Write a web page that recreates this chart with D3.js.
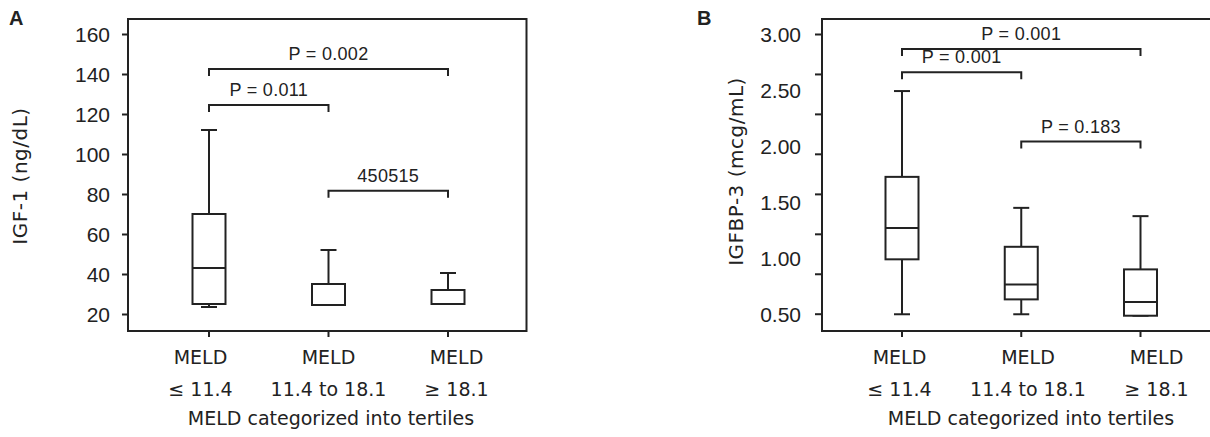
<!DOCTYPE html>
<html><head><meta charset="utf-8">
<script src="https://cdn.jsdelivr.net/npm/d3@7"></script>
<style>body{margin:0;background:#fff;overflow:hidden} svg{display:block}</style>
</head><body><svg id="c" width="1210" height="437"></svg>
<script>
// ---------- data ----------
const categories = ["low", "mid", "high"];
const categoryLine1 = ["MELD", "MELD", "MELD"];
const categoryLine2 = ["≤ 11.4", "11.4 to 18.1", "≥ 18.1"];
const xTitle = "MELD categorized into tertiles";

// Panel A: IGF-1 (ng/dL)
const igf1WhiskerLow  = [23.5, 24.5, 25];
const igf1Q1          = [25, 24.5, 25];
const igf1Median      = [43, 24.5, 25];
const igf1Q3          = [70, 35, 32];
const igf1WhiskerHigh = [112, 52, 40.5];
const igf1Ticks = [20, 40, 60, 80, 100, 120, 140, 160];
const igf1CompFrom  = [0, 0, 1];
const igf1CompTo    = [2, 1, 2];
const igf1CompLevel = [142.5, 124.5, 81.6];
const igf1CompLabel = ["P = 0.002", "P = 0.011", "450515"];

// Panel B: IGFBP-3 (mcg/mL)
const igfbp3WhiskerLow  = [0.495, 0.495, 0.482];
const igfbp3Q1          = [0.986, 0.628, 0.482];
const igfbp3Median      = [1.265, 0.762, 0.604];
const igfbp3Q3          = [1.723, 1.098, 0.896];
const igfbp3WhiskerHigh = [2.49, 1.446, 1.372];
const igfbp3TickLabels = [0.5, 1.0, 1.5, 2.0, 2.5, 3.0];
const igfbp3TickMarks  = [0.5, 0.857, 1.214, 1.571, 1.929, 2.286, 2.643, 3.0];
const igfbp3CompFrom  = [0, 0, 1];
const igfbp3CompTo    = [2, 1, 2];
const igfbp3CompLevel = [2.866, 2.658, 2.039];
const igfbp3CompLabel = ["P = 0.001", "P = 0.001", "P = 0.183"];

// ---------- drawing ----------
const svg = d3.select("#c");
const INK = "#222";
const NUMFONT = "'Liberation Sans', Arial, sans-serif";
const TXTFONT = "'DejaVu Sans', Verdana, sans-serif";

function panel(cfg) {
  const g = svg.append("g");
  const y = d3.scaleLinear().domain(cfg.yDomain).range([cfg.yBottomTick, cfg.yTopTick]);
  const x = d3.scalePoint().domain(categories).range(cfg.xRange);
  const xl = d3.scalePoint().domain(categories).range(cfg.xLabelRange);

  // frame
  g.append("path")
    .attr("d", `M${cfg.left},${cfg.top}H${cfg.right}V${cfg.bottom}H${cfg.left}Z`)
    .attr("fill", "none").attr("stroke", INK).attr("stroke-width", 2);

  // y axis
  if (cfg.tickMarks) {
    const axMarks = d3.axisLeft(y).tickValues(cfg.tickMarks).tickSize(7).tickFormat("");
    const gm = g.append("g").attr("transform", `translate(${cfg.left},0)`).call(axMarks);
    gm.select(".domain").remove();
    gm.selectAll("line").attr("stroke", INK).attr("stroke-width", 2);
    const axLab = d3.axisLeft(y).tickValues(cfg.tickLabels).tickSize(0).tickPadding(cfg.tickPad).tickFormat(d3.format(".2f"));
    const gl = g.append("g").attr("transform", `translate(${cfg.left},0)`).call(axLab);
    gl.select(".domain").remove();
    gl.selectAll("line").remove();
    gl.selectAll("text").attr("font-family", NUMFONT).attr("font-size", 21).attr("fill", INK).attr("dy", "0.36em");
  } else {
    const ax = d3.axisLeft(y).tickValues(cfg.tickLabels).tickSize(6).tickPadding(cfg.tickPad).tickFormat(d3.format("d"));
    const ga = g.append("g").attr("transform", `translate(${cfg.left},0)`).call(ax);
    ga.select(".domain").remove();
    ga.selectAll("line").attr("stroke", INK).attr("stroke-width", 2);
    ga.selectAll("text").attr("font-family", NUMFONT).attr("font-size", 21).attr("fill", INK).attr("dy", "0.36em");
  }

  // x ticks
  g.selectAll(".xt").data(categories).enter().append("line")
    .attr("x1", d => x(d)).attr("x2", d => x(d))
    .attr("y1", cfg.bottom).attr("y2", cfg.bottom + 6)
    .attr("stroke", INK).attr("stroke-width", 2);

  // x labels
  const lab = g.selectAll(".xl").data(categories).enter().append("g");
  lab.append("text").attr("x", d => xl(d)).attr("y", cfg.bottom + 33)
    .attr("text-anchor", "middle").attr("font-family", TXTFONT).attr("font-size", 19).attr("fill", INK)
    .text((d, i) => categoryLine1[i]);
  lab.append("text").attr("x", d => xl(d)).attr("y", cfg.bottom + 65)
    .attr("text-anchor", "middle").attr("font-family", TXTFONT).attr("font-size", 19).attr("fill", INK)
    .text((d, i) => categoryLine2[i]);
  g.append("text").attr("x", cfg.xTitleX).attr("y", cfg.bottom + 94)
    .attr("text-anchor", "middle").attr("font-family", TXTFONT).attr("font-size", 19).attr("fill", INK)
    .text(xTitle);

  // y title
  g.append("text")
    .attr("transform", `translate(${cfg.yTitleX},${cfg.yTitleY}) rotate(-90)`)
    .attr("text-anchor", "middle").attr("font-family", TXTFONT).attr("font-size", 20)
    .attr("letter-spacing", 0.5).attr("fill", INK).text(cfg.yTitle);

  // panel letter
  g.append("text").attr("x", cfg.letterX).attr("y", 25)
    .attr("font-family", NUMFONT).attr("font-weight", "bold").attr("font-size", 20).attr("fill", INK)
    .text(cfg.letter);

  // boxes
  const bw = 33, cw = 16;
  const bx = g.selectAll(".box").data(categories).enter().append("g");
  bx.append("line").attr("x1", d => x(d)).attr("x2", d => x(d))
    .attr("y1", (d, i) => y(cfg.q3[i])).attr("y2", (d, i) => y(cfg.hi[i]))
    .attr("stroke", INK).attr("stroke-width", 2);
  bx.append("line").attr("x1", d => x(d)).attr("x2", d => x(d))
    .attr("y1", (d, i) => y(cfg.q1[i])).attr("y2", (d, i) => y(cfg.lo[i]))
    .attr("stroke", INK).attr("stroke-width", 2);
  bx.append("line").attr("x1", d => x(d) - cw / 2).attr("x2", d => x(d) + cw / 2)
    .attr("y1", (d, i) => y(cfg.hi[i])).attr("y2", (d, i) => y(cfg.hi[i]))
    .attr("stroke", INK).attr("stroke-width", 2);
  bx.append("line").attr("x1", d => x(d) - cw / 2).attr("x2", d => x(d) + cw / 2)
    .attr("y1", (d, i) => y(cfg.lo[i])).attr("y2", (d, i) => y(cfg.lo[i]))
    .attr("stroke", INK).attr("stroke-width", 2);
  bx.append("rect").attr("x", d => x(d) - bw / 2).attr("width", bw)
    .attr("y", (d, i) => y(cfg.q3[i])).attr("height", (d, i) => y(cfg.q1[i]) - y(cfg.q3[i]))
    .attr("fill", "#fff").attr("stroke", INK).attr("stroke-width", 2);
  bx.append("line").attr("x1", d => x(d) - bw / 2).attr("x2", d => x(d) + bw / 2)
    .attr("y1", (d, i) => y(cfg.med[i])).attr("y2", (d, i) => y(cfg.med[i]))
    .attr("stroke", INK).attr("stroke-width", 2);

  // comparison brackets
  const drop = 7;
  cfg.compFrom.forEach((f, k) => {
    const x1 = x(categories[f]), x2 = x(categories[cfg.compTo[k]]), yy = y(cfg.compLevel[k]);
    g.append("path").attr("d", `M${x1},${yy + drop}V${yy}H${x2}V${yy + drop}`)
      .attr("fill", "none").attr("stroke", INK).attr("stroke-width", 2);
    g.append("text").attr("x", (x1 + x2) / 2).attr("y", yy - 9)
      .attr("text-anchor", "middle").attr("font-family", NUMFONT).attr("font-size", 18)
      .attr("letter-spacing", 0.3).attr("fill", INK).text(cfg.compLabel[k]);
  });
}

panel({
  letter: "A", letterX: 9,
  left: 128, right: 526.5, top: 19, bottom: 331,
  yDomain: [20, 160], yBottomTick: 314, yTopTick: 34,
  xRange: [209, 448], xLabelRange: [200.5, 456.5], xTitleX: 331,
  tickLabels: igf1Ticks, tickPad: 12,
  yTitle: "IGF-1 (ng/dL)", yTitleX: 27, yTitleY: 176,
  lo: igf1WhiskerLow, q1: igf1Q1, med: igf1Median, q3: igf1Q3, hi: igf1WhiskerHigh,
  compFrom: igf1CompFrom, compTo: igf1CompTo, compLevel: igf1CompLevel, compLabel: igf1CompLabel
});

panel({
  letter: "B", letterX: 697,
  left: 822, right: 1225, top: 19, bottom: 331,
  yDomain: [0.5, 3.0], yBottomTick: 313.7, yTopTick: 34,
  xRange: [902, 1140.5], xLabelRange: [899.5, 1156.5], xTitleX: 1031,
  tickLabels: igfbp3TickLabels, tickMarks: igfbp3TickMarks, tickPad: 21,
  yTitle: "IGFBP-3 (mcg/mL)", yTitleX: 743, yTitleY: 171.5,
  lo: igfbp3WhiskerLow, q1: igfbp3Q1, med: igfbp3Median, q3: igfbp3Q3, hi: igfbp3WhiskerHigh,
  compFrom: igfbp3CompFrom, compTo: igfbp3CompTo, compLevel: igfbp3CompLevel, compLabel: igfbp3CompLabel
});
</script></body></html>
